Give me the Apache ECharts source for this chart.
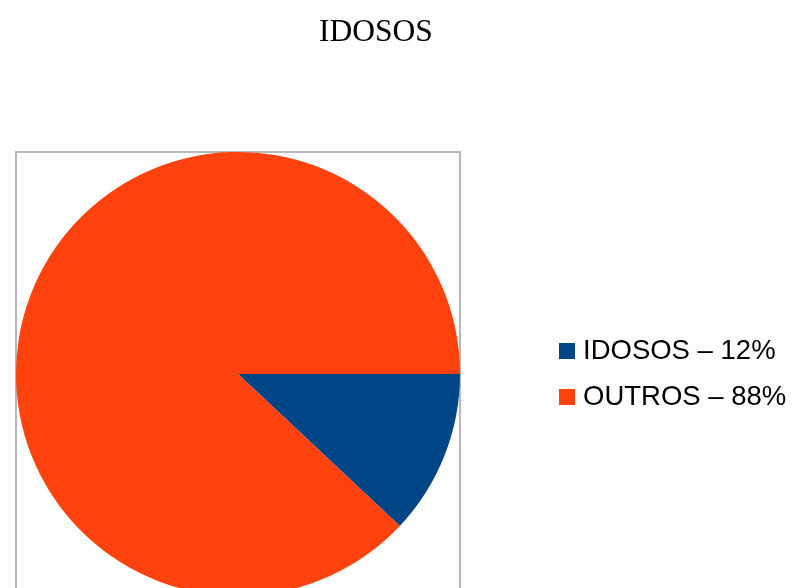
<!DOCTYPE html>
<html>
<head>
<meta charset="utf-8">
<script src="https://cdn.jsdelivr.net/npm/echarts@6/dist/echarts.min.js"></script>
<style>
  html, body { margin: 0; padding: 0; background: #fff; }
  #chart-box { width: 802px; height: 588px; }
</style>
</head>
<body>
<div id="chart-box"></div>
<script>
const categories = ['IDOSOS', 'OUTROS'];
const values = [12, 88];
const legendLabels = ['IDOSOS – 12%', 'OUTROS – 88%'];
const colors = ['#004586', '#ff420e'];

const myChart = echarts.init(document.querySelector('#chart-box'));

const pieData = categories.map((name, i) => ({
  name: legendLabels[i],
  value: values[i],
  itemStyle: { color: colors[i] }
}));

let option = {
  animation: false,
  title: {
    text: 'IDOSOS',
    left: 314,
    top: 12,
    textStyle: {
      fontFamily: 'Liberation Serif',
      fontWeight: 'normal',
      fontSize: 31.5,
      color: '#000'
    }
  },
  // frame around the plot area
  graphic: [{
    type: 'rect',
    shape: { x: 16, y: 152, width: 444, height: 500 },
    style: { fill: 'none', stroke: '#b8b8b8', lineWidth: 2 },
    z: -1
  }],
  legend: {
    orient: 'vertical',
    left: 559,
    top: 336,
    padding: 0,
    itemWidth: 16,
    itemHeight: 16,
    itemGap: 16,
    icon: 'rect',
    textStyle: {
      fontFamily: 'Liberation Sans',
      fontSize: 27.5,
      lineHeight: 30,
      color: '#000',
      padding: [0, 0, 0, 3]
    },
    data: legendLabels
  },
  series: [{
    type: 'pie',
    center: [238, 374],
    radius: 222,
    startAngle: 0,
    clockwise: true,
    label: { show: false },
    labelLine: { show: false },
    emphasis: { disabled: true },
    data: pieData
  }]
};
myChart.setOption(option);
</script>
</body>
</html>
